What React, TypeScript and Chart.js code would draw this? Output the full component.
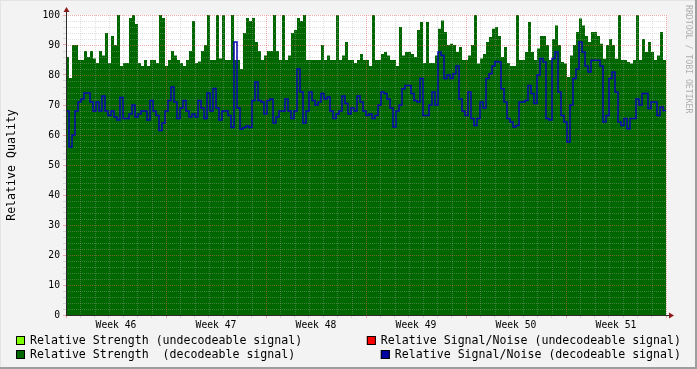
import React, { useEffect, useRef } from 'react';
import { Chart, registerables } from 'chart.js';

Chart.register(...registerables);

// ---- data ----
const weekNumbers = [46, 47, 48, 49, 50, 51];
const spanDays = 42;

// Relative Strength (decodeable signal), 200 samples over 6 weeks
const strengthDecodeable = [
  86, 79, 90, 90, 85, 85, 88, 86, 88, 85.5,
  84, 88, 86.5, 94, 84, 93, 90, 100, 83, 84,
  84, 99, 100, 97, 84, 83, 85, 83, 85, 85,
  84, 100, 99, 83, 85, 88, 86.5, 85, 84, 83,
  85, 88, 98, 84, 84.5, 88, 90, 100, 85, 85,
  100, 85.5, 100, 85, 85, 100, 85, 85, 82, 94,
  99, 98, 99, 91, 88, 85, 86.5, 88, 88, 100,
  88, 85, 100, 85, 86.5, 94, 95, 99, 98, 100,
  85, 85, 85, 85, 85, 90, 85, 86.5, 85, 85,
  100, 85, 86.5, 91, 85, 85, 84, 85, 87, 85,
  85, 83, 100, 85, 85, 87, 87.7, 86.5, 85, 85,
  83, 96, 86.5, 87.7, 87.7, 87, 86, 95, 97.7, 84,
  97.7, 84, 84, 86.5, 95.4, 98.2, 94.3, 90, 90.4, 90,
  87.7, 89.3, 85, 85, 86.5, 90, 100, 83.8, 85.5, 87,
  91, 92.7, 95.4, 96, 93, 86, 89.3, 84, 83, 83,
  100, 85, 85, 87.7, 97.7, 87.7, 85, 88.8, 93, 93,
  90, 85, 92, 96.5, 90, 84.3, 83.8, 79.3, 86.5, 90,
  94.3, 98.8, 96.5, 93, 91, 94.3, 94.3, 93, 90.4, 85.4,
  90, 92, 90, 85.4, 100, 85, 85, 84.3, 83.8, 85,
  100, 85, 92, 87.7, 91, 87.7, 85, 86.5, 94.3, 85,
];

// Relative Signal/Noise (decodeable signal), 200 samples over 6 weeks
const snrDecodeable = [
  68, 56, 60, 68, 71, 72, 74, 74, 71, 68,
  71, 68, 73, 68, 66.5, 68, 66, 65, 72.5, 65.5,
  65.5, 67, 70, 66, 67, 68, 68, 65, 71.5, 68,
  66.5, 61.5, 64, 68, 71.5, 76, 71, 65.5, 69, 71.5,
  68, 66, 67, 66, 71.5, 69, 65.5, 74, 68, 75.5,
  69, 65, 68, 68, 66.5, 62.5, 91, 69, 62, 62.5,
  63, 62.5, 71.5, 77.7, 71.5, 71, 67, 71.5, 72, 64,
  66, 68, 68, 72, 68, 65.5, 68, 82, 74.3, 64,
  68, 74.3, 71.5, 70, 71, 73.8, 72, 72.7, 68, 65.5,
  67, 68, 73, 70.5, 67, 69, 68, 73, 71, 68,
  66.5, 67, 65.5, 66.5, 70, 74.3, 73.8, 72, 69, 62.7,
  68, 70, 75.4, 76.5, 76.5, 73.8, 71.5, 71, 78.8, 66.5,
  66.5, 70, 74.3, 70, 87.7, 86.5, 78.8, 80, 78.8, 80.4,
  83, 72, 68, 66.5, 74.3, 65.5, 63.2, 65.5, 71, 69,
  78.8, 80.4, 83, 84.5, 84.3, 75.4, 71, 65.5, 64.3, 62.7,
  63.2, 71, 71, 71.5, 76.5, 73.8, 70.5, 80, 85.5, 84.3,
  65.5, 65, 85.5, 87.7, 74.3, 66.5, 64.3, 57.7, 70, 78.8,
  82, 91, 87.7, 83, 81, 84.9, 84.9, 84.9, 83, 64.3,
  66.5, 78.8, 81, 74.3, 64.3, 63.2, 65.5, 62.1, 65.5, 65.5,
  72, 70, 73.8, 73.8, 68.8, 71, 71, 66.5, 69.3, 68.2,
];

// undecodeable series have no samples in this period
const strengthUndecodeable: number[] = [];
const snrUndecodeable: number[] = [];

const legendLabels = [
  'Relative Strength (undecodeable signal)',
  'Relative Signal/Noise (undecodeable signal)',
  'Relative Strength  (decodeable signal)',
  'Relative Signal/Noise (decodeable signal)',
];
const legendColors = ['#80FF00', '#FF0000', '#006600', '#0000A0'];
const yTitle = 'Relative Quality';
const watermark = 'RRDTOOL / TOBI OETIKER';

const toPoints = (vals: number[]) => {
  if (!vals.length) return [];
  const dt = spanDays / vals.length;
  const pts = vals.map((v, i) => ({ x: i * dt, y: v }));
  pts.push({ x: spanDays, y: vals[vals.length - 1] });
  return pts;
};

const MONO = '"DejaVu Sans Mono", monospace';
const MINOR = 'rgba(170,170,170,0.38)';
const MAJOR = 'rgba(230,90,90,0.5)';
const isMajorX = (v: number) => Math.round(v) % 7 === 0;
const isMajorY = (v: number) => Math.round(v) % 10 === 0;

const rrdPlugin = {
  id: 'rrdDecor',
  beforeDraw(chart: any) {
    const { ctx, chartArea: a, width, height } = chart;
    ctx.save();
    ctx.fillStyle = '#F3F3F3';
    ctx.fillRect(0, 0, width, height);
    ctx.fillStyle = '#E4E4E4';
    ctx.fillRect(0, 0, width, 1);
    ctx.fillRect(0, 0, 1, height);
    ctx.fillStyle = '#9E9E9E';
    ctx.fillRect(0, height - 2, width, 2);
    ctx.fillRect(width - 2, 0, 2, height);
    ctx.fillStyle = '#FFFFFF';
    ctx.fillRect(a.left, a.top, a.right - a.left, a.bottom - a.top);
    ctx.restore();
  },
  // grid over the strength area but under the signal/noise line
  beforeDatasetDraw(chart: any, args: any) {
    if (args.index !== 0) return;
    const { ctx, chartArea: a, scales } = chart;
    const xs = scales.x;
    const ys = scales.y;
    ctx.save();
    ctx.lineWidth = 1;
    ctx.setLineDash([1, 1]);
    for (const t of ys.ticks) {
      const v = t.value;
      const py = Math.round(ys.getPixelForValue(v)) + 0.5;
      ctx.strokeStyle = isMajorY(v) ? MAJOR : MINOR;
      ctx.beginPath();
      ctx.moveTo(a.left, py);
      ctx.lineTo(a.right, py);
      ctx.stroke();
    }
    for (const t of xs.ticks) {
      const v = t.value;
      if (Math.abs(v % 1) > 1e-6) continue;
      const px = Math.round(xs.getPixelForValue(v)) + 0.5;
      ctx.strokeStyle = isMajorX(v) ? MAJOR : MINOR;
      ctx.beginPath();
      ctx.moveTo(px, a.top);
      ctx.lineTo(px, a.bottom);
      ctx.stroke();
    }
    ctx.restore();
  },
  afterDraw(chart: any) {
    const { ctx, chartArea: a } = chart;
    ctx.save();
    // axis extensions and arrows
    ctx.strokeStyle = '#2C2C2C';
    ctx.lineWidth = 1;
    ctx.beginPath();
    ctx.moveTo(a.left + 0.5, a.top);
    ctx.lineTo(a.left + 0.5, a.top - 4);
    ctx.moveTo(a.right, a.bottom + 0.5);
    ctx.lineTo(a.right + 4, a.bottom + 0.5);
    ctx.stroke();
    ctx.fillStyle = '#8B1A1A';
    ctx.beginPath();
    ctx.moveTo(a.left + 0.5 - 3, a.top - 3);
    ctx.lineTo(a.left + 0.5 + 3, a.top - 3);
    ctx.lineTo(a.left + 0.5, a.top - 8);
    ctx.closePath();
    ctx.fill();
    ctx.beginPath();
    ctx.moveTo(a.right + 3, a.bottom + 0.5 - 3);
    ctx.lineTo(a.right + 3, a.bottom + 0.5 + 3);
    ctx.lineTo(a.right + 8, a.bottom + 0.5);
    ctx.closePath();
    ctx.fill();

    // y title
    ctx.fillStyle = '#000';
    ctx.font = '11.6px ' + MONO;
    ctx.textAlign = 'center';
    ctx.textBaseline = 'middle';
    ctx.save();
    ctx.translate(12, (a.top + a.bottom) / 2);
    ctx.rotate(-Math.PI / 2);
    ctx.fillText(yTitle, 0, 0);
    ctx.restore();

    // watermark
    ctx.save();
    ctx.fillStyle = '#AEAEAE';
    ctx.font = '8.2px ' + MONO;
    ctx.translate(688, 5);
    ctx.rotate(Math.PI / 2);
    ctx.textAlign = 'left';
    ctx.textBaseline = 'middle';
    ctx.fillText(watermark, 0, 0);
    ctx.restore();

    // legend
    ctx.font = '11.6px ' + MONO;
    ctx.textBaseline = 'middle';
    ctx.textAlign = 'left';
    const rowsY = [341, 355];
    for (let r = 0; r < 2; r++) {
      const y = rowsY[r];
      const li = r * 2;
      ctx.fillStyle = legendColors[li];
      ctx.fillRect(16, y - 5, 9, 9);
      ctx.strokeStyle = '#000';
      ctx.lineWidth = 1;
      ctx.strokeRect(16.5, y - 4.5, 8, 8);
      ctx.fillStyle = '#000';
      ctx.fillText(legendLabels[li], 30, y);
      const ri = r * 2 + 1;
      const w = ctx.measureText(legendLabels[ri]).width;
      const tx = 681 - w;
      ctx.fillStyle = legendColors[ri];
      ctx.fillRect(tx - 14, y - 5, 9, 9);
      ctx.strokeRect(tx - 13.5, y - 4.5, 8, 8);
      ctx.fillStyle = '#000';
      ctx.fillText(legendLabels[ri], tx, y);
    }
    ctx.restore();
  },
};

export default function App() {
  const ref = useRef<HTMLCanvasElement | null>(null);
  useEffect(() => {
    if (!ref.current) return;
    const chart = new Chart(ref.current, {
      type: 'line',
      data: {
        datasets: [
          {
            label: legendLabels[3],
            data: toPoints(snrDecodeable),
            borderColor: '#0808B0',
            borderWidth: 1.5,
            stepped: 'before',
            pointRadius: 0,
            fill: false,
            order: 0,
          },
          {
            label: legendLabels[1],
            data: toPoints(snrUndecodeable),
            borderColor: legendColors[1],
            borderWidth: 1,
            stepped: 'before',
            pointRadius: 0,
            fill: false,
            order: 1,
          },
          {
            label: legendLabels[2],
            data: toPoints(strengthDecodeable),
            borderColor: 'rgba(0,0,0,0)',
            backgroundColor: legendColors[2],
            borderWidth: 0,
            stepped: 'before',
            pointRadius: 0,
            fill: 'origin',
            order: 2,
          },
          {
            label: legendLabels[0],
            data: toPoints(strengthUndecodeable),
            borderColor: 'rgba(0,0,0,0)',
            backgroundColor: legendColors[0],
            borderWidth: 0,
            stepped: 'before',
            pointRadius: 0,
            fill: 'origin',
            order: 3,
          },
        ],
      } as any,
      options: {
        responsive: false,
        animation: false,
        devicePixelRatio: 1,
        events: [],
        layout: { padding: { left: 0, top: 15, right: 31, bottom: 0 } },
        plugins: { legend: { display: false }, tooltip: { enabled: false } },
        scales: {
          x: {
            type: 'linear',
            position: 'bottom',
            min: 0,
            max: spanDays,
            afterFit: (s: any) => { s.height = 54; },
            border: { display: true, color: '#2C2C2C', z: 2 },
            grid: {
              drawOnChartArea: false,
              drawTicks: true,
              tickLength: 3,
              z: 2,
              color: (c: any) => {
                const v = c.tick ? c.tick.value : 0;
                if (Math.abs(v % 1) > 1e-6) return 'rgba(0,0,0,0)';
                return isMajorX(v) ? MAJOR : MINOR;
              },
            },
            ticks: {
              stepSize: 0.5,
              autoSkip: false,
              maxRotation: 0,
              minRotation: 0,
              padding: 2,
              color: '#000',
              font: { family: MONO, size: 9.7 },
              callback: (v: any) => {
                const k = (Number(v) - 3.5) / 7;
                if (Math.abs(k - Math.round(k)) < 1e-6 && k >= 0 && k < weekNumbers.length) {
                  return 'Week ' + weekNumbers[Math.round(k)];
                }
                return '';
              },
            },
          },
          y: {
            type: 'linear',
            min: 0,
            max: 100,
            afterFit: (s: any) => { s.width = 66; },
            border: { display: true, color: '#2C2C2C', z: 2 },
            grid: {
              drawOnChartArea: false,
              drawTicks: true,
              tickLength: 3,
              z: 2,
              color: (c: any) => {
                const v = c.tick ? c.tick.value : 0;
                return isMajorY(v) ? MAJOR : MINOR;
              },
            },
            ticks: {
              stepSize: 2,
              autoSkip: false,
              padding: 3,
              color: '#000',
              font: { family: MONO, size: 9.7 },
              callback: (v: any) => (isMajorY(Number(v)) ? String(v) : ''),
            },
          },
        },
      } as any,
      plugins: [rrdPlugin],
    });
    return () => chart.destroy();
  }, []);
  return (
    <div style={{ position: 'absolute', left: 0, top: 0, width: 697, height: 369 }}>
      <canvas ref={ref} width={697} height={369} style={{ display: 'block' }} />
    </div>
  );
}
